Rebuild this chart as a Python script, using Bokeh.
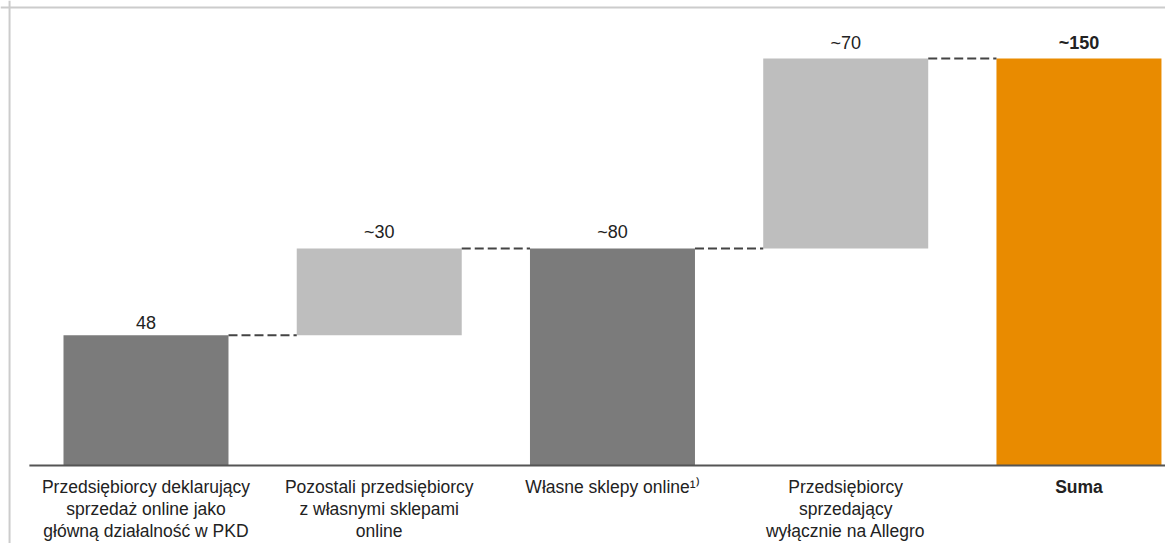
from bokeh.plotting import figure
from bokeh.models import Range1d, Span, ColumnDataSource
from bokeh.core.properties import value
from bokeh.embed import file_html
from bokeh.resources import INLINE

categories = [
    "Przedsiębiorcy deklarujący\nsprzedaż online jako\ngłówną działalność w PKD",
    "Pozostali przedsiębiorcy\nz własnymi sklepami\nonline",
    "Własne sklepy online¹⁾",
    "Przedsiębiorcy\nsprzedający\nwyłącznie na Allegro",
    "Suma",
]
values = [48, 32, 80, 70, 150]
kinds = ["total", "step", "total", "step", "total"]
value_labels = ["48", "~30", "~80", "~70", "~150"]
bar_colors = ["#7b7b7b", "#bebebe", "#7b7b7b", "#bebebe", "#e98b00"]

# waterfall geometry derived from data
bottoms, tops = [], []
prev_top = 0
for v, k in zip(values, kinds):
    b = 0 if k == "total" else prev_top
    bottoms.append(b)
    tops.append(b + v)
    prev_top = b + v

xs = list(range(len(categories)))
BW = 0.7074
X0, X1 = -0.6238, 4.371
Y0, Y1 = -28.75, 171.38

p = figure(width=1165, height=543, output_backend="svg", toolbar_location=None,
           x_range=Range1d(X0, X1), y_range=Range1d(Y0, Y1),
           min_border=0, min_border_left=0, min_border_right=0,
           min_border_top=0, min_border_bottom=0)
p.axis.visible = False
p.grid.visible = False
p.outline_line_color = None
p.background_fill_color = "white"
p.border_fill_color = "white"

src = ColumnDataSource(dict(x=xs, bottom=bottoms, top=tops, color=bar_colors))
p.vbar(x="x", bottom="bottom", top="top", width=BW, fill_color="color",
       line_color=None, source=src)

# connectors
cx0 = [x + BW / 2 for x in xs[:-1]]
cx1 = [x + 1 - BW / 2 for x in xs[:-1]]
cy = tops[:-1]
p.segment(x0=cx0, y0=cy, x1=cx1, y1=cy, line_color="#444444",
          line_width=2, line_dash="9 4")

# baseline axis line
p.segment(x0=[-0.5], y0=[0], x1=[4.5], y1=[0], line_color="#555555", line_width=2)

FONT = value("Liberation Sans")
FS = "18px"
LFS = "17.5px"
normal = [i for i in xs if i != len(xs) - 1]
last = len(xs) - 1

# value labels
p.text(x=[xs[i] for i in normal], y=[tops[i] for i in normal],
       text=[value_labels[i] for i in normal], text_align="center",
       text_baseline="bottom", y_offset=-6, text_font=FONT,
       text_font_size=FS, text_color="#222222")
p.text(x=[xs[last]], y=[tops[last]], text=[value_labels[last]],
       text_align="center", text_baseline="bottom", y_offset=-6,
       text_font=FONT, text_font_size=FS,
       text_font_style="bold", text_color="#222222")

# category labels
p.text(x=[xs[i] for i in normal], y=[0] * len(normal),
       text=[categories[i] for i in normal], text_align="center",
       text_baseline="top", y_offset=12, text_line_height=1.1,
       text_font=FONT, text_font_size=LFS, text_color="#222222")
p.text(x=[xs[last]], y=[0], text=[categories[last]], text_align="center",
       text_baseline="top", y_offset=12, text_font=FONT,
       text_font_size=LFS, text_font_style="bold", text_color="#222222")

# frame border (left and top)
p.add_layout(Span(location=-0.585, dimension="height", line_color="#cccccc", line_width=2))
p.add_layout(Span(location=168.8, dimension="width", line_color="#cccccc", line_width=2))

open("out.html", "w").write(file_html(p, INLINE))
